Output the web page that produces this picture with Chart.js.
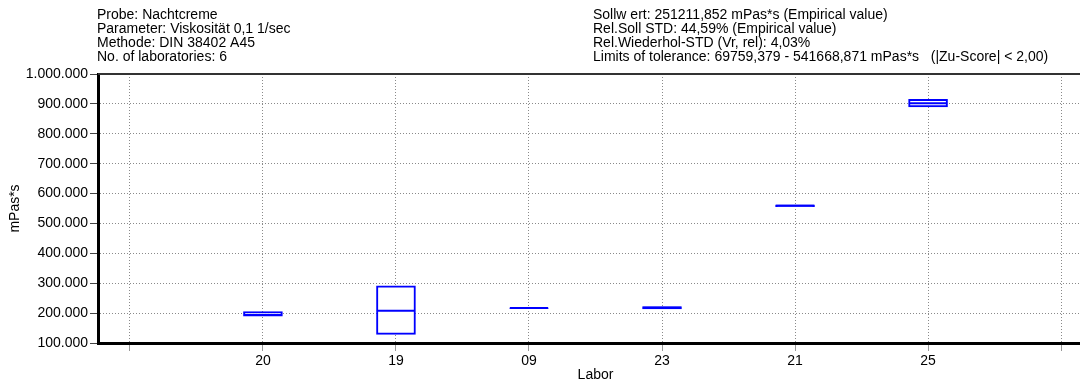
<!DOCTYPE html>
<html>
<head>
<meta charset="utf-8">
<script src="https://cdn.jsdelivr.net/npm/chart.js@4/dist/chart.umd.min.js"></script>
<style>
  html, body { margin: 0; padding: 0; background: #fff; overflow: hidden; }
  #myChart { display: block; }
</style>
</head>
<body>
<canvas id="myChart" width="1094" height="385"></canvas>
<script>
// Labs in plot order, with box bounds and medians (mPas*s)
const labs = ['20', '19', '09', '23', '21', '25'];
const q1 = [190000, 129000, 216000, 214000, 556000, 890000];
const q3 = [205000, 291000, 218000, 222000, 562000, 915000];
const median = [194000, 208000, 217000, 218000, 559000, 902000];

const infoLeft = [
    'Probe: Nachtcreme',
    'Parameter: Viskosität 0,1 1/sec',
    'Methode: DIN 38402 A45',
    'No. of laboratories: 6'
];
const infoRight = [
    'Sollw ert: 251211,852 mPas*s (Empirical value)',
    'Rel.Soll STD: 44,59% (Empirical value)',
    'Rel.Wiederhol-STD (Vr, rel): 4,03%',
    'Limits of tolerance: 69759,379 - 541668,871 mPas*s   (|Zu-Score| < 2,00)'
];

const FONT = '"Liberation Sans", Arial, sans-serif';
const BLUE = '#0000ff';

function dotted(n) {
    return String(n).replace(/\B(?=(\d{3})+(?!\d))/g, '.');
}

// header text above the plot + dark top frame line
const headerPlugin = {
    id: 'header',
    afterDraw(chart) {
        const ctx = chart.ctx;
        const area = chart.chartArea;
        ctx.save();
        ctx.font = '14px ' + FONT;
        ctx.fillStyle = '#000';
        ctx.textBaseline = 'middle';
        infoLeft.forEach((t, i) => ctx.fillText(t, 97, 15 + i * 14.2));
        infoRight.forEach((t, i) => ctx.fillText(t, 593, 15 + i * 14.2));

        ctx.strokeStyle = '#333';
        ctx.lineWidth = 2;
        ctx.beginPath();
        ctx.moveTo(area.left, area.top);
        ctx.lineTo(area.right, area.top);
        ctx.stroke();
        ctx.restore();
    }
};

const ctx = document.getElementById('myChart');

new Chart(ctx.getContext('2d'), {
    type: 'bar',
    data: {
        datasets: [{
            type: 'bar',
            data: labs.map((l, i) => ({ x: i + 1, y: [q1[i], q3[i]] })),
            backgroundColor: '#fff',
            borderColor: BLUE,
            borderWidth: 2,
            borderSkipped: false,
            barThickness: 39,
            grouped: false,
            order: 2
        }, {
            type: 'line',
            data: labs.map((l, i) => ({ x: i + 1, y: median[i] })),
            showLine: false,
            pointStyle: 'line',
            pointRadius: 19,
            pointHoverRadius: 19,
            pointBorderColor: BLUE,
            pointBorderWidth: 2,
            order: 1
        }]
    },
    options: {
        responsive: false,
        animation: false,
        events: [],
        layout: {
            autoPadding: false,
            padding: { top: 74, left: 7, right: 1, bottom: 0 }
        },
        plugins: {
            legend: { display: false },
            tooltip: { enabled: false }
        },
        scales: {
            x: {
                type: 'linear',
                min: -0.24,
                max: 7.24,
                offset: false,
                afterBuildTicks: function(scale) {
                    scale.ticks = [0, 1, 2, 3, 4, 5, 6, 7].map(v => ({ value: v }));
                },
                afterFit: function(scale) {
                    scale.height = 42;
                },
                grid: {
                    offset: false,
                    color: '#8a8a8a',
                    tickColor: '#999',
                    tickLength: 8,
                    tickBorderDash: []
                },
                border: {
                    color: '#000',
                    width: 3,
                    dash: [1, 2]
                },
                ticks: {
                    font: { family: FONT, size: 14 },
                    color: '#000',
                    padding: 2,
                    maxRotation: 0,
                    autoSkip: false,
                    callback: function(value) {
                        return labs[value - 1] || '';
                    }
                },
                title: {
                    display: true,
                    text: 'Labor',
                    font: { family: FONT, size: 14 },
                    color: '#000',
                    padding: { top: 0, bottom: 1 }
                }
            },
            y: {
                min: 100000,
                max: 1000000,
                afterFit: function(scale) {
                    scale.width = 91;
                },
                grid: {
                    color: '#8a8a8a',
                    tickColor: '#444',
                    tickLength: 8,
                    tickBorderDash: []
                },
                border: {
                    color: '#000',
                    width: 3,
                    dash: [1, 2]
                },
                ticks: {
                    stepSize: 100000,
                    font: { family: FONT, size: 14 },
                    color: '#000',
                    padding: 2,
                    callback: function(value) {
                        return dotted(value);
                    }
                },
                title: {
                    display: true,
                    text: 'mPas*s',
                    font: { family: FONT, size: 14 },
                    color: '#000',
                    padding: { top: 0, bottom: 0 }
                }
            }
        }
    },
    plugins: [headerPlugin]
});
</script>
</body>
</html>
